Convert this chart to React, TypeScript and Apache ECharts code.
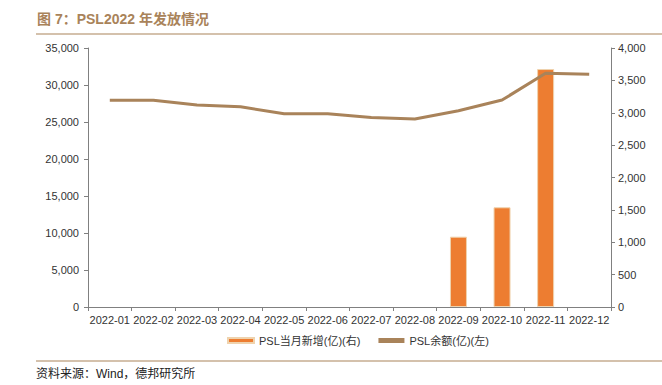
import React, { useEffect, useRef } from "react";
import * as echarts from "echarts";

const categories = ["2022-01","2022-02","2022-03","2022-04","2022-05","2022-06","2022-07","2022-08","2022-09","2022-10","2022-11","2022-12"];
const pslNew = [null, null, null, null, null, null, null, null, 1086, 1540, 3675, null];
const pslBalance = [27950, 27950, 27300, 27050, 26120, 26120, 25600, 25400, 26530, 27970, 31580, 31450];
const leftTicks = { min: 0, max: 35000, interval: 5000 };
const rightTicks = { min: 0, max: 4000, interval: 500 };

const FONT = "'Liberation Sans', Arial, 'Noto Sans CJK SC', sans-serif";
const BROWN = "#A9835A";
const ORANGE = "#ED7D31";

export default function App() {
  const ref = useRef<HTMLDivElement>(null);
  useEffect(() => {
    if (!ref.current) return;
    const chart = echarts.init(ref.current, undefined, { renderer: "svg" });
    const fmt = (v: number) => v.toLocaleString("en-US");
    chart.setOption({
      animation: false,
      backgroundColor: "#fff",
      textStyle: { fontFamily: FONT },
      grid: { left: 88, right: 51, top: 48, height: 259 },
      legend: {
        bottom: 34,
        left: 222,
        itemWidth: 26,
        itemHeight: 5,
        itemGap: 18,
        textStyle: { fontSize: 11, color: "#333", fontFamily: FONT },
        data: [
          { name: "PSL当月新增(亿)(右)", icon: "rect", itemStyle: { color: ORANGE } },
          { name: "PSL余额(亿)(左)", icon: "rect", itemStyle: { color: BROWN } },
        ],
      },
      xAxis: {
        type: "category",
        data: categories,
        axisLine: { lineStyle: { color: "#808080" } },
        axisTick: { show: true, alignWithLabel: false, lineStyle: { color: "#808080" }, length: 4 },
        axisLabel: { color: "#333", fontSize: 11, margin: 7, interval: 0 },
      },
      yAxis: [
        {
          type: "value",
          min: leftTicks.min,
          max: leftTicks.max,
          interval: leftTicks.interval,
          position: "left",
          splitLine: { show: false },
          axisLine: { show: true, lineStyle: { color: "#808080" } },
          axisTick: { show: true, length: 4, lineStyle: { color: "#808080" } },
          axisLabel: { color: "#333", fontSize: 11, margin: 9, formatter: fmt },
        },
        {
          type: "value",
          min: rightTicks.min,
          max: rightTicks.max,
          interval: rightTicks.interval,
          position: "right",
          splitLine: { show: false },
          axisLine: { show: true, lineStyle: { color: "#808080" } },
          axisTick: { show: true, length: 4, lineStyle: { color: "#808080" } },
          axisLabel: { color: "#333", fontSize: 11, margin: 7, formatter: fmt },
        },
      ],
      series: [
        {
          name: "PSL当月新增(亿)(右)",
          type: "bar",
          yAxisIndex: 1,
          data: pslNew,
          barWidth: 17,
          itemStyle: { color: ORANGE, borderColor: "#EFD3AE", borderWidth: 1 },
        },
        {
          name: "PSL余额(亿)(左)",
          type: "line",
          yAxisIndex: 0,
          data: pslBalance,
          symbol: "none",
          lineStyle: { color: BROWN, width: 3 },
          itemStyle: { color: BROWN },
        },
      ],
      graphic: [
        {
          type: "text",
          left: 37,
          top: 12,
          style: { text: "图 7：PSL2022 年发放情况", font: `bold 14px ${FONT}`, fill: BROWN },
        },
        {
          type: "line",
          shape: { x1: 36, y1: 34, x2: 662, y2: 34 },
          style: { stroke: BROWN, lineWidth: 1.2 },
        },
        {
          type: "line",
          shape: { x1: 36, y1: 361, x2: 662, y2: 361 },
          style: { stroke: BROWN, lineWidth: 1.2 },
        },
        {
          type: "text",
          left: 36,
          top: 368,
          style: { text: "资料来源：Wind，德邦研究所", font: `12px ${FONT}`, fill: "#222" },
        },
      ],
    });
    return () => chart.dispose();
  }, []);
  return <div ref={ref} style={{ width: 662, height: 385, position: "absolute", left: 0, top: 0 }} />;
}
